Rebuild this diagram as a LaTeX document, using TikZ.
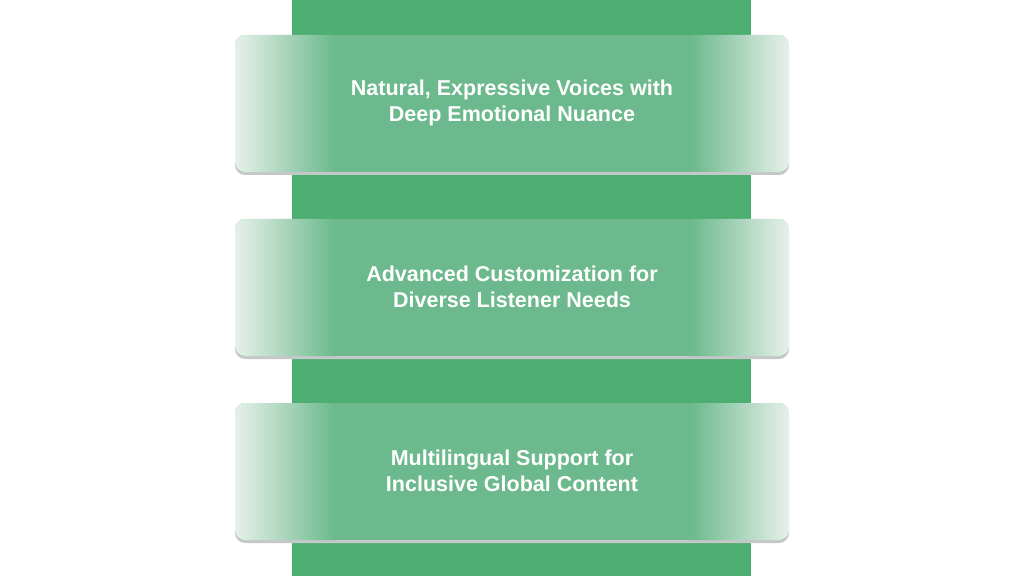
\documentclass[tikz,border=0pt]{standalone}
\usepackage{fontspec}
\setmainfont{Liberation Sans}
\definecolor{band}{HTML}{4DAE71}
\definecolor{cardg}{HTML}{6BB98C}
\definecolor{edge}{HTML}{E8F0EB}
\definecolor{shad}{HTML}{C4C8C6}
\tikzset{x=1pt,y=1pt,
  lbl/.style={text=white,font=\fontsize{21.5}{26}\selectfont\bfseries,align=center}}
\newcommand{\mycard}[3]{%
  \pgfmathsetmacro{\ytop}{576-#1}
  \pgfmathsetmacro{\ybot}{576-#1-137}
  \fill[shad,rounded corners=10] (235,\ybot-3) rectangle (789,\ytop-3);
  \begin{scope}
    \clip[rounded corners=10] (235,\ybot) rectangle (789,\ytop);
    \fill[cardg] (235,\ybot) rectangle (789,\ytop);
    \shade[left color=edge,right color=cardg] (235,\ybot) rectangle (335,\ytop);
    \shade[left color=cardg,right color=edge] (690,\ybot) rectangle (789,\ytop);
  \end{scope}
  \node[lbl] (#2) at (512,{(\ytop+\ybot)/2+1}) {#3};
}
\begin{document}
\begin{tikzpicture}
\useasboundingbox (0,0) rectangle (1024,576);
\fill[white] (0,0) rectangle (1024,576);
\fill[band] (292,0) rectangle (751,576);
\mycard{35}{c1}{Natural, Expressive Voices with\\Deep Emotional Nuance}
\mycard{219}{c2}{Advanced Customization for\\Diverse Listener Needs}
\mycard{403}{c3}{Multilingual Support for\\Inclusive Global Content}
\end{tikzpicture}
\end{document}
